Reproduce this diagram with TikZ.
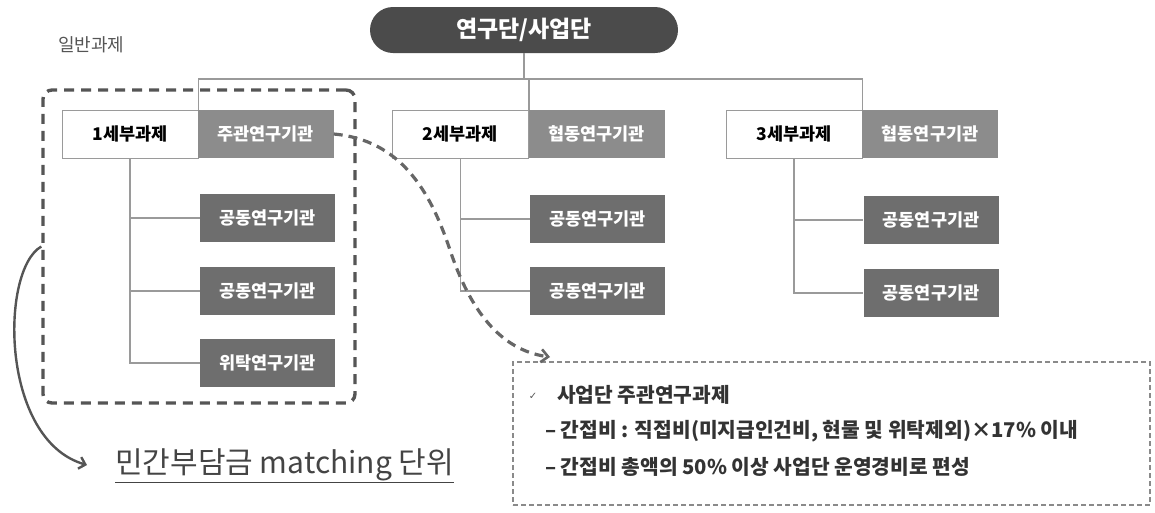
\documentclass[tikz,border=0pt]{standalone}
\usepackage{fontspec}
\setmainfont{Noto Sans CJK KR}
\newfontfamily\symfont{DejaVu Sans}
\usetikzlibrary{arrows.meta}
\definecolor{pilldark}{HTML}{4B4B4B}
\definecolor{leadgray}{HTML}{8C8C8C}
\definecolor{childgray}{HTML}{6E6E6E}
\definecolor{linegray}{HTML}{9A9A9A}
\definecolor{dashgray}{HTML}{555555}
\definecolor{infogray}{HTML}{8A8A8A}
\definecolor{txtdark}{HTML}{333333}
\definecolor{bigtxt}{HTML}{444444}
\tikzset{
  pill/.style={fill=pilldark, rounded corners=23pt, minimum width=308pt, minimum height=46pt, inner sep=0pt, text=white, font=\fontsize{23}{25}\selectfont\bfseries},
  subbox/.style={draw=linegray, line width=0.8pt, fill=white, minimum width=136pt, minimum height=48pt, inner sep=0pt, text=black, font=\fontsize{17.5}{19}\selectfont\bfseries},
  leadbox/.style={fill=leadgray, minimum width=136pt, minimum height=48pt, inner sep=0pt, text=white, font=\fontsize{17.5}{19}\selectfont\bfseries},
  childbox/.style={fill=childgray, minimum width=135pt, minimum height=48pt, inner sep=0pt, text=white, font=\fontsize{17.5}{19}\selectfont\bfseries},
  tree/.style={draw=linegray, line width=1.2pt},
  groupbox/.style={draw=dashgray, line width=3.4pt, dash pattern=on 10pt off 7pt, rounded corners=9pt, minimum width=312pt, minimum height=313pt, inner sep=0pt},
  infobox/.style={draw=infogray, line width=1.8pt, dash pattern=on 5pt off 3pt, minimum width=637pt, minimum height=143pt, inner sep=0pt},
  infotext/.style={anchor=west, inner sep=0pt, text=txtdark, font=\fontsize{20.3}{22}\selectfont\bfseries},
  flowdash/.style={draw=dashgray!90, line width=3.2pt, dash pattern=on 9pt off 6pt, -{Straight Barb[length=7pt,width=13pt,line width=2.6pt]}},
  bendarrow/.style={draw=dashgray, line width=2.4pt, -{Straight Barb[length=6pt,width=12pt,line width=2.4pt]}}
}
\begin{document}
\begin{tikzpicture}[x=1pt,y=-1pt]
\useasboundingbox (0,0) rectangle (1155,512);

\node[anchor=west, inner sep=0pt, text=dashgray, font=\fontsize{18}{20}\selectfont] (gen) at (58,45) {일반과제};

\node[pill] (top) at (524,30) {연구단/사업단};

\node[subbox] (s1) at (130,134) {1세부과제};
\node[leadbox] (j1) at (265.5,134) {주관연구기관};
\node[subbox] (s2) at (460.5,134) {2세부과제};
\node[leadbox] (h2) at (596.5,134) {협동연구기관};
\node[subbox] (s3) at (794,134) {3세부과제};
\node[leadbox] (h3) at (930,134) {협동연구기관};

\node[childbox] (c11) at (267.5,218) {공동연구기관};
\node[childbox] (c12) at (267.5,291) {공동연구기관};
\node[childbox] (c13) at (267.5,363) {위탁연구기관};
\node[childbox] (c21) at (597.5,219) {공동연구기관};
\node[childbox] (c22) at (597.5,291) {공동연구기관};
\node[childbox] (c31) at (931,220) {공동연구기관};
\node[childbox] (c32) at (931,293) {공동연구기관};

\coordinate (bus) at (0,79);
\draw[tree] (top.south) -- (top.south |- bus);
\draw[tree] (s1.north east) |- (s3.north east |- bus) -- (s3.north east);
\draw[tree] (s2.north east) -- (s2.north east |- bus);

\draw[tree] (s1.south) |- (c13.west);
\draw[tree] (s1.south |- c11.west) -- (c11.west);
\draw[tree] (s1.south |- c12.west) -- (c12.west);
\draw[tree] (s2.south) |- (c22.west);
\draw[tree] (s2.south |- c21.west) -- (c21.west);
\draw[tree] (s3.south) |- (c32.west);
\draw[tree] (s3.south |- c31.west) -- (c31.west);

\node[groupbox] (grp) at (199,246.5) {};

\node[infobox] (info) at (831.5,433.5) {};
\node[anchor=center, inner sep=0pt, text=dashgray, font=\symfont\fontsize{10}{11}\selectfont] (chk) at (533,396) {✓};
\node[infotext] (t1) at (557,395) {사업단 주관연구과제};
\node[infotext] (t2) at (545,431) {– 간접비 : 직접비(미지급인건비, 현물 및 위탁제외)×17\% 이내};
\node[infotext] (t3) at (545,467) {– 간접비 총액의 50\% 이상 사업단 운영경비로 편성};

\coordinate (tip) at (550,357);
\draw[flowdash] (j1.east) .. controls (400,140) and (430,190) .. (450,250) .. controls (470,310) and (500,350) .. (tip);

\node[anchor=west, inner sep=0pt, text=bigtxt, font=\fontsize{30}{34}\selectfont] (bt) at (115,466) {\underline{민간부담금 matching 단위}};
\coordinate (btip) at (87,465);
\draw[bendarrow] (grp.west) .. controls (0,270) and (0,440) .. (btip);
\end{tikzpicture}
\end{document}
